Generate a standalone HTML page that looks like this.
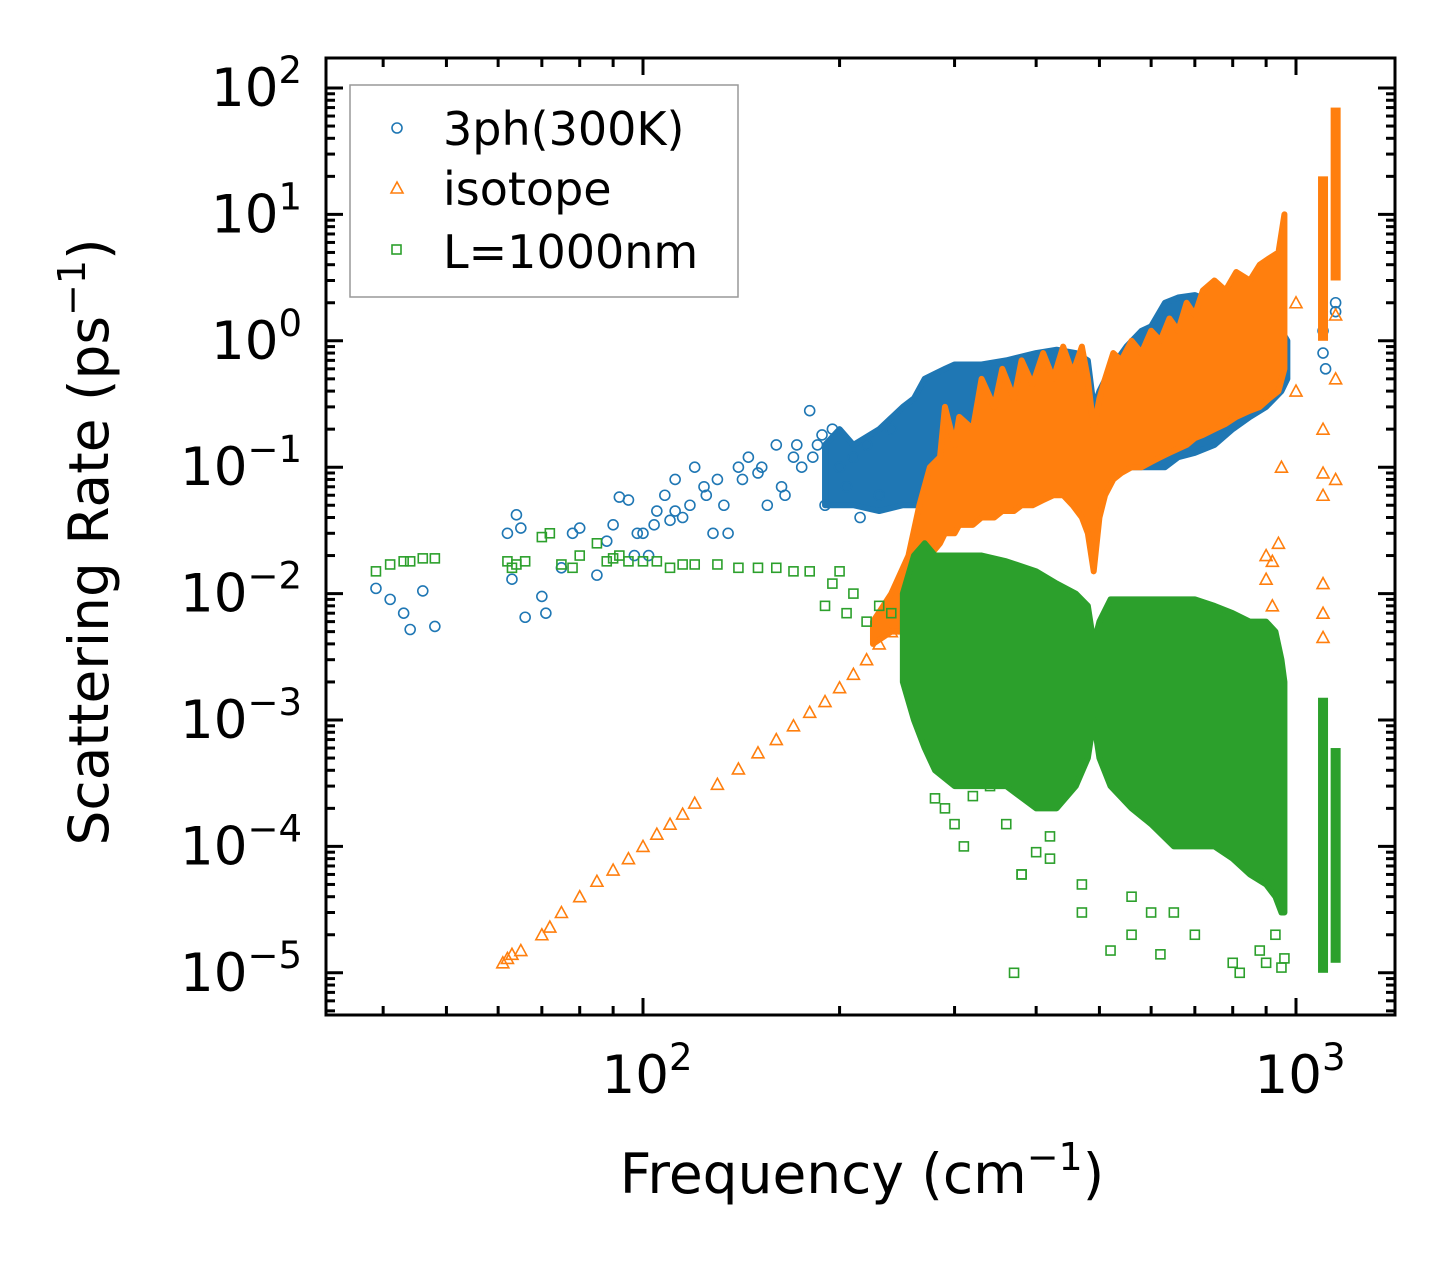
<!DOCTYPE html>
<html><head><meta charset="utf-8"><style>
html,body{margin:0;padding:0;background:#fff;}
svg{display:block;font-family:"DejaVu Sans","Liberation Sans",sans-serif;}
</style></head><body>
<svg id="chart" width="1455" height="1265" viewBox="0 0 1455 1265" xmlns="http://www.w3.org/2000/svg">
<rect width="1455" height="1265" fill="#fff"/>
<g id="marks"></g>
<g id="axes"></g>
<g id="legend">
<rect x="350" y="85" width="388" height="212" fill="#fff" fill-opacity="0.8" stroke="#999" stroke-width="1.5"/>
<circle cx="397" cy="128" r="5" fill="none" stroke="#1f77b4" stroke-width="1.6"/>
<text x="443" y="145" font-size="46">3ph(300K)</text>
<path d="M391,193 L397,182 L403,193 Z" fill="none" stroke="#ff7f0e" stroke-width="1.6"/>
<text x="443" y="205" font-size="46">isotope</text>
<rect x="392" y="245" width="9" height="9" fill="none" stroke="#2ca02c" stroke-width="1.6"/>
<text x="443" y="268" font-size="46">L=1000nm</text>
</g>
<text x="862" y="1193" font-size="55" text-anchor="middle">Frequency (cm<tspan dy="-23" font-size="38">−1</tspan><tspan dy="23">)</tspan></text>
<text transform="translate(108,542) rotate(-90)" font-size="55" text-anchor="middle">Scattering Rate (ps<tspan dy="-23" font-size="38">−1</tspan><tspan dy="23">)</tspan></text>
</svg>
<script>
// ---- data ----
const threephF=[39,41,43,44,46,48,62,63,64,65,66,70,71,75,78,80,85,88,90,92,95,98,100,102,105,108,110,112,115,118,120,125,128,130,135,140,145,150,155,160,165,170,175,180,185,190,195,200,205,210,215,220,230,240,97,104,112,124,133,142,152,163,172,182,188,1100,1100,1110,1150,1150];
const threephV=[0.011,0.009,0.007,0.0052,0.0105,0.0055,0.03,0.013,0.042,0.033,0.0065,0.0095,0.007,0.016,0.03,0.033,0.014,0.026,0.035,0.058,0.055,0.03,0.03,0.02,0.045,0.06,0.038,0.08,0.04,0.05,0.1,0.06,0.03,0.08,0.03,0.1,0.12,0.09,0.05,0.15,0.06,0.12,0.1,0.28,0.15,0.05,0.2,0.1,0.07,0.12,0.04,0.15,0.06,0.2,0.02,0.035,0.045,0.07,0.05,0.08,0.1,0.07,0.15,0.12,0.18,0.8,1.2,0.6,1.7,2];
const bandF3=[190,200,210,230,250,260,270,280,290,300,330,360,400,430,460,480,490,500,520,550,580,600,630,660,700,750,800,850,900,950,970];
const bandLo3=[0.05,0.05,0.05,0.045,0.05,0.05,0.05,0.06,0.06,0.07,0.07,0.07,0.07,0.08,0.09,0.1,0.1,0.1,0.1,0.1,0.1,0.1,0.1,0.12,0.13,0.15,0.2,0.25,0.3,0.4,0.5];
const bandHi3=[0.15,0.2,0.15,0.2,0.3,0.35,0.5,0.55,0.6,0.65,0.65,0.7,0.8,0.85,0.8,0.7,0.3,0.4,0.6,0.9,1.2,1.3,2,2.2,2.3,2,1.8,1.5,1.3,1.2,1.0];

const isoF=[61,62,63,65,70,72,75,80,85,90,95,100,105,110,115,120,130,140,150,160,170,180,190,200,210,220,230,240,250,1100,1100,1100,1100,1150,1150,1150,900,900,920,920,940,950,1000,1000,1100,1100];
const isoV=[1.2e-5,1.3e-5,1.4e-5,1.5e-5,2e-5,2.3e-5,3e-5,4e-5,5.3e-5,6.5e-5,8e-5,1e-4,1.25e-4,1.5e-4,1.8e-4,2.2e-4,3.1e-4,4.1e-4,5.5e-4,7e-4,9e-4,1.15e-3,1.4e-3,1.8e-3,2.3e-3,3e-3,4e-3,5e-3,6e-3,0.0045,0.007,0.06,0.2,0.5,1.6,0.08,0.02,0.013,0.008,0.018,0.025,0.1,0.4,2,0.09,0.012];
const bandFi=[225,240,255,265,275,285,290,300,305,320,330,345,355,370,380,395,410,425,440,455,470,480,490,500,510,525,540,560,580,600,620,640,660,680,700,720,750,780,810,850,880,910,940,960];
const bandHii=[0.006,0.01,0.02,0.05,0.1,0.12,0.3,0.15,0.25,0.2,0.5,0.3,0.6,0.35,0.7,0.45,0.8,0.5,0.9,0.55,0.9,0.5,0.2,0.35,0.5,0.8,0.7,1.0,0.8,1.2,1.0,1.5,1.2,2,1.6,2.5,3,2.5,3.5,3,4,4.5,5,10];
const bandLoi=[0.004,0.005,0.005,0.01,0.02,0.025,0.03,0.03,0.035,0.035,0.04,0.04,0.045,0.045,0.05,0.05,0.055,0.06,0.06,0.05,0.04,0.03,0.015,0.04,0.06,0.08,0.09,0.1,0.1,0.11,0.12,0.13,0.14,0.15,0.17,0.18,0.2,0.22,0.25,0.28,0.3,0.35,0.4,0.6];
const colFi=[1100,1150];
const colLoi=[1,3];
const colHii=[20,70];

const bdF=[39,41,43,44,46,48,62,63,64,66,70,72,75,78,80,85,88,90,92,95,100,105,110,115,120,130,140,150,160,170,180,190,195,200,205,210,220,230,240,370,380,420,470,520,560,620,700,800,820,880,900,930,950,960,470,560,600,650,280,290,300,310,320,340,360,380,400,420];
const bdV=[0.015,0.017,0.018,0.018,0.019,0.019,0.018,0.016,0.017,0.018,0.028,0.03,0.017,0.016,0.02,0.025,0.018,0.019,0.02,0.018,0.018,0.018,0.016,0.017,0.017,0.017,0.016,0.016,0.016,0.015,0.015,0.008,0.012,0.015,0.007,0.01,0.006,0.008,0.007,1e-5,6e-5,8e-5,3e-5,1.5e-5,2e-5,1.4e-5,2e-5,1.2e-5,1e-5,1.5e-5,1.2e-5,2e-5,1.1e-5,1.3e-5,5e-5,4e-5,3e-5,3e-5,2.4e-4,2e-4,1.5e-4,1e-4,2.5e-4,3e-4,1.5e-4,6e-5,9e-5,1.2e-4];
const bandFb=[250,260,270,280,300,330,360,400,430,460,480,490,500,520,560,600,650,700,750,800,850,900,930,950,960];
const bandHib=[0.01,0.02,0.025,0.02,0.02,0.02,0.018,0.015,0.012,0.01,0.008,0.004,0.006,0.009,0.009,0.009,0.009,0.009,0.008,0.007,0.006,0.006,0.005,0.003,0.002];
const bandLob=[0.002,0.001,0.0006,0.0004,0.0003,0.0003,0.0003,0.0002,0.0002,0.0003,0.0005,0.001,0.0005,0.0003,0.0002,0.00015,0.0001,0.0001,0.0001,0.00008,0.00006,0.00005,0.00004,0.00003,0.00003];
const colFb=[1100,1150];
const colLob=[1e-5,1.2e-5];
const colHib=[1.5e-3,6e-4];

const xTickVals=[100,1000];
const xTickLabels=["2","3"];
const yTickExps=[2,1,0,-1,-2,-3,-4,-5];
// ---- scales ----
const X0=326,X1=1395,Y0=58,Y1=1015;
const xs=f=>643+653*(Math.log10(f)-2);
const ys=v=>88+126.4*(2-Math.log10(v));
const NS="http://www.w3.org/2000/svg";
function mk(tag,attrs,parent){const e=document.createElementNS(NS,tag);for(const k in attrs)e.setAttribute(k,attrs[k]);parent.appendChild(e);return e;}
const marks=document.getElementById('marks');
const axes=document.getElementById('axes');
const C3="#1f77b4",CI="#ff7f0e",CB="#2ca02c";
function band(F,Lo,Hi,color,name){
  let d="M"+F.map((f,i)=>xs(f)+","+ys(Hi[i])).join(" L")+" L"+F.slice().reverse().map((f,j)=>xs(f)+","+ys(Lo[F.length-1-j])).join(" L")+" Z";
  const p=mk('path',{d:d,fill:color,stroke:color,'stroke-width':6,'stroke-linejoin':'round'},marks);
  
  
}
function col(F,Lo,Hi,color,name){
  F.forEach((f,i)=>{const r=mk('rect',{x:xs(f)-5,y:ys(Hi[i]),width:10,height:ys(Lo[i])-ys(Hi[i]),fill:color},marks);
  
  });
}
function pts(F,V,color,shape,name){
  F.forEach((f,i)=>{const x=xs(f),y=ys(V[i]);let e;
    if(shape==='c')e=mk('circle',{cx:x,cy:y,r:5,fill:'none',stroke:color,'stroke-width':1.6},marks);
    else if(shape==='t')e=mk('path',{d:`M${x-6},${y+5} L${x},${y-6} L${x+6},${y+5} Z`,fill:'none',stroke:color,'stroke-width':1.6},marks);
    else e=mk('rect',{x:x-4.5,y:y-4.5,width:9,height:9,fill:'none',stroke:color,'stroke-width':1.6},marks);
    
    
  });
}
band(bandF3,bandLo3,bandHi3,C3,'3ph-dense-region');
pts(threephF,threephV,C3,'c','3ph-point');
band(bandFi,bandLoi,bandHii,CI,'isotope-dense-region');
col(colFi,colLoi,colHii,CI,'isotope-column');
pts(isoF,isoV,CI,'t','isotope-point');
band(bandFb,bandLob,bandHib,CB,'boundary-dense-region');
col(colFb,colLob,colHib,CB,'boundary-column');
pts(bdF,bdV,CB,'s','boundary-point');
// ---- axes ----
const fr=mk('rect',{x:X0,y:Y0,width:X1-X0,height:Y1-Y0,fill:'none',stroke:'#000','stroke-width':3},axes);


function tick(x1,y1,x2,y2){mk('line',{x1,y1,x2,y2,stroke:'#000','stroke-width':3},axes);}
for(let d=1;d<=3;d++)for(let m=1;m<10;m++){const f=m*Math.pow(10,d);const x=xs(f);if(x<=X0+1||x>=X1-1)continue;const L=m===1?17:9;tick(x,Y1,x,Y1-L);tick(x,Y0,x,Y0+L);}
xTickVals.forEach((v,i)=>{const t=mk('text',{x:xs(v)+4,y:1093,'font-size':53,'text-anchor':'middle'},axes);t.innerHTML='10<tspan dy="-23" font-size="37">'+xTickLabels[i]+'</tspan>';

});
for(let d=-6;d<=2;d++)for(let m=1;m<10;m++){const v=m*Math.pow(10,d);const y=ys(v);if(y<=Y0+1||y>=Y1-1)continue;const L=m===1?17:9;tick(X0,y,X0+L,y);tick(X1,y,X1-L,y);}
yTickExps.forEach(e=>{const t=mk('text',{x:302,y:ys(Math.pow(10,e))+18,'font-size':53,'text-anchor':'end'},axes);t.innerHTML='10<tspan dy="-23" font-size="37">'+(e<0?'−'+(-e):e)+'</tspan>';

});
</script>
</body></html>
